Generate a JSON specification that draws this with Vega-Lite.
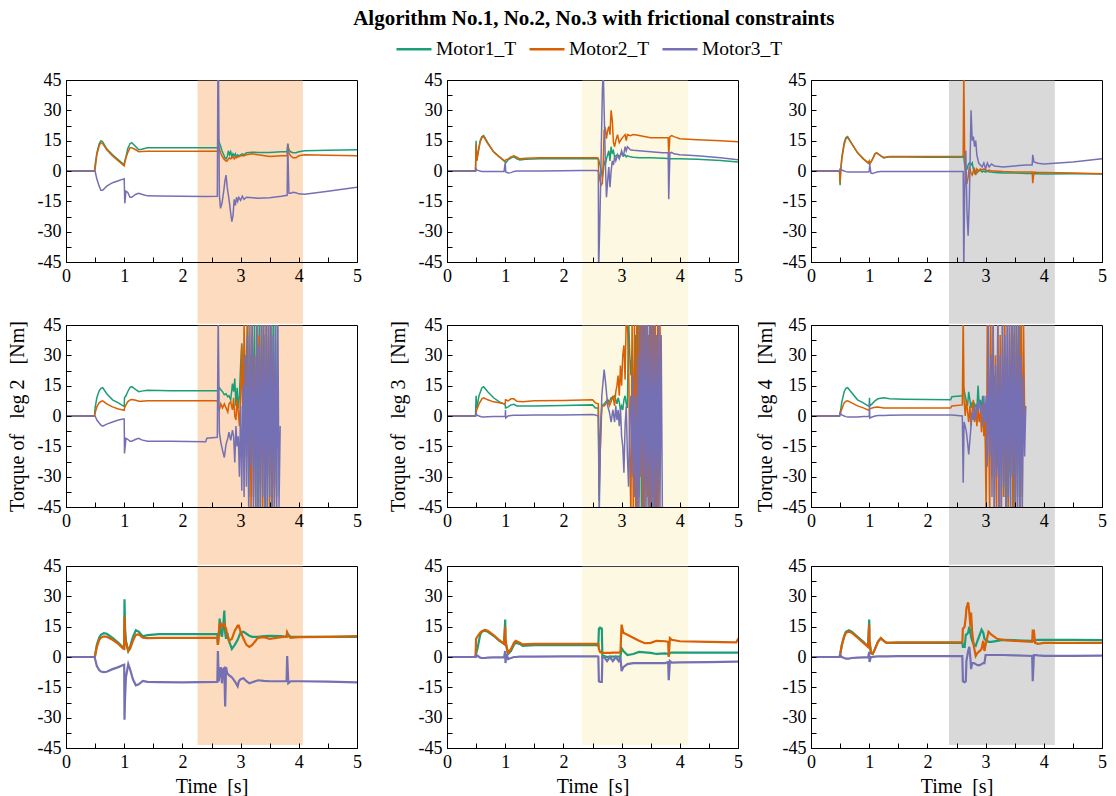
{
"$schema": "https://vega.github.io/schema/vega-lite/v6.json",
"background": "white",
"padding": {"left": 6, "top": 8, "right": 4, "bottom": 0},
"title": {"text": "Algorithm No.1, No.2, No.3 with frictional constraints", "font": "Liberation Serif", "fontSize": 21, "fontWeight": "bold", "color": "black", "anchor": "middle", "dx": 37, "offset": 1},
"datasets": {
"p12": [{"t":0,"m1":0,"m2":0,"m3":0},{"t":0.49,"m1":0,"m2":0,"m3":0},{"t":0.5,"m1":3,"m2":1,"m3":0},{"t":0.53,"m1":9,"m2":8,"m3":-4},{"t":0.57,"m1":13.5,"m2":12.5,"m3":-7.5},{"t":0.6,"m1":15,"m2":14,"m3":-9.5},{"t":0.63,"m1":14.5,"m2":13.5,"m3":-9.5},{"t":0.7,"m1":11,"m2":10.5,"m3":-7.5},{"t":0.8,"m1":8,"m2":7.5,"m3":-5.8},{"t":0.9,"m1":5.5,"m2":5,"m3":-4.8},{"t":0.98,"m1":3.5,"m2":3,"m3":-4},{"t":1.0,"m1":3.5,"m2":2.5,"m3":-3.8},{"t":1.01,"m1":5,"m2":4,"m3":-16},{"t":1.03,"m1":7,"m2":6.5,"m3":-10},{"t":1.06,"m1":11,"m2":9,"m3":-10.5},{"t":1.1,"m1":13.5,"m2":11.5,"m3":-13},{"t":1.13,"m1":14,"m2":11.5,"m3":-13},{"t":1.2,"m1":12,"m2":10.5,"m3":-11.5},{"t":1.25,"m1":10.5,"m2":9.5,"m3":-11},{"t":1.3,"m1":10.8,"m2":9.6,"m3":-11.5},{"t":1.4,"m1":11.5,"m2":9.8,"m3":-12.3},{"t":1.6,"m1":11.5,"m2":9.8,"m3":-12.4},{"t":2.0,"m1":11.5,"m2":9.8,"m3":-12.5},{"t":2.4,"m1":11.5,"m2":9.8,"m3":-12.6},{"t":2.6,"m1":11.5,"m2":9.8,"m3":-12.5},{"t":2.61,"m1":11.5,"m2":9.8,"m3":50},{"t":2.62,"m1":15.5,"m2":12,"m3":50},{"t":2.635,"m1":14,"m2":11,"m3":-12},{"t":2.655,"m1":12.5,"m2":9,"m3":-18.5},{"t":2.68,"m1":10,"m2":7.5,"m3":-16},{"t":2.71,"m1":8,"m2":6,"m3":-10},{"t":2.73,"m1":6.5,"m2":5.5,"m3":-5},{"t":2.75,"m1":6,"m2":5,"m3":-2},{"t":2.77,"m1":7,"m2":5,"m3":-8},{"t":2.79,"m1":10,"m2":6,"m3":-12},{"t":2.81,"m1":8,"m2":6.5,"m3":-16},{"t":2.83,"m1":9.5,"m2":6,"m3":-21},{"t":2.85,"m1":7,"m2":6.5,"m3":-25},{"t":2.87,"m1":8.5,"m2":7,"m3":-22},{"t":2.89,"m1":7.5,"m2":6,"m3":-14},{"t":2.91,"m1":8.5,"m2":7,"m3":-17},{"t":2.93,"m1":7,"m2":6.5,"m3":-13},{"t":2.95,"m1":8,"m2":7,"m3":-15},{"t":2.97,"m1":7.5,"m2":7,"m3":-13},{"t":3.0,"m1":8,"m2":7.5,"m3":-14.5},{"t":3.03,"m1":8.5,"m2":7.5,"m3":-12.5},{"t":3.06,"m1":8,"m2":7.5,"m3":-14},{"t":3.1,"m1":9,"m2":8,"m3":-13},{"t":3.2,"m1":9.3,"m2":8.5,"m3":-13.2},{"t":3.3,"m1":9.2,"m2":8,"m3":-13.5},{"t":3.5,"m1":9.2,"m2":7.2,"m3":-13.2},{"t":3.7,"m1":9.5,"m2":7.5,"m3":-12.5},{"t":3.8,"m1":9.5,"m2":7.5,"m3":-12},{"t":3.81,"m1":13.5,"m2":12.5,"m3":13.5},{"t":3.83,"m1":10.5,"m2":9,"m3":-11},{"t":3.86,"m1":9.5,"m2":7.5,"m3":-11},{"t":3.9,"m1":9,"m2":6.5,"m3":-10.5},{"t":3.95,"m1":9,"m2":6.5,"m3":-10.8},{"t":4.0,"m1":9.5,"m2":7.5,"m3":-11.3},{"t":4.1,"m1":10,"m2":8,"m3":-11.5},{"t":4.5,"m1":10.3,"m2":7.8,"m3":-10},{"t":5.0,"m1":10.5,"m2":7.5,"m3":-8}],
"p13": [{"t":0,"m1":0,"m2":0,"m3":0},{"t":0.49,"m1":0,"m2":0,"m3":0},{"t":0.5,"m1":15,"m2":13,"m3":1},{"t":0.51,"m1":5,"m2":5,"m3":0.5},{"t":0.53,"m1":9,"m2":8,"m3":0.3},{"t":0.57,"m1":15,"m2":14.5,"m3":0},{"t":0.6,"m1":17,"m2":16.5,"m3":-0.2},{"t":0.63,"m1":17.5,"m2":17,"m3":-0.3},{"t":0.7,"m1":14,"m2":13.5,"m3":-0.3},{"t":0.8,"m1":9.5,"m2":9.5,"m3":-0.3},{"t":0.9,"m1":7,"m2":7,"m3":-0.3},{"t":0.98,"m1":5,"m2":5.2,"m3":-0.3},{"t":1.0,"m1":4.5,"m2":5,"m3":4},{"t":1.01,"m1":4,"m2":5.5,"m3":-0.5},{"t":1.05,"m1":5.5,"m2":6,"m3":-1},{"t":1.1,"m1":6.5,"m2":7,"m3":-0.8},{"t":1.15,"m1":7,"m2":7.5,"m3":-0.2},{"t":1.2,"m1":6,"m2":6.8,"m3":0},{"t":1.25,"m1":5.5,"m2":6,"m3":0},{"t":1.35,"m1":5.8,"m2":6.3,"m3":0},{"t":1.6,"m1":6,"m2":6.5,"m3":0},{"t":2.0,"m1":6,"m2":6.6,"m3":0.1},{"t":2.3,"m1":6,"m2":6.6,"m3":0.2},{"t":2.58,"m1":6,"m2":6.5,"m3":0.2},{"t":2.6,"m1":6,"m2":6.3,"m3":-0.5},{"t":2.605,"m1":5.5,"m2":0,"m3":-50},{"t":2.63,"m1":3,"m2":-5,"m3":-20},{"t":2.65,"m1":0,"m2":-7,"m3":10},{"t":2.67,"m1":-3,"m2":-6,"m3":40},{"t":2.685,"m1":0,"m2":5,"m3":50},{"t":2.7,"m1":5,"m2":20,"m3":30},{"t":2.72,"m1":3,"m2":21,"m3":5},{"t":2.74,"m1":6,"m2":16,"m3":-13},{"t":2.76,"m1":8,"m2":20,"m3":-5},{"t":2.78,"m1":10,"m2":22,"m3":2},{"t":2.8,"m1":5,"m2":18,"m3":-8},{"t":2.82,"m1":12,"m2":30,"m3":0},{"t":2.84,"m1":9,"m2":25,"m3":5},{"t":2.86,"m1":10,"m2":14,"m3":3},{"t":2.88,"m1":7,"m2":12,"m3":7},{"t":2.9,"m1":7.5,"m2":15,"m3":5},{"t":2.93,"m1":8,"m2":18,"m3":8},{"t":2.96,"m1":7,"m2":14,"m3":6},{"t":3.0,"m1":8.5,"m2":16,"m3":10},{"t":3.03,"m1":7.5,"m2":17,"m3":7},{"t":3.06,"m1":8,"m2":18,"m3":12},{"t":3.08,"m1":7,"m2":15,"m3":10},{"t":3.1,"m1":7.5,"m2":18,"m3":12},{"t":3.15,"m1":7,"m2":17.5,"m3":10.5},{"t":3.2,"m1":6.8,"m2":18,"m3":10.3},{"t":3.3,"m1":6.5,"m2":17.5,"m3":10},{"t":3.5,"m1":6.5,"m2":16.5,"m3":9.5},{"t":3.7,"m1":6.3,"m2":16.5,"m3":9},{"t":3.8,"m1":6.2,"m2":16.5,"m3":9},{"t":3.81,"m1":6.2,"m2":8,"m3":-14},{"t":3.83,"m1":6,"m2":17,"m3":9},{"t":3.86,"m1":6,"m2":17.5,"m3":9.2},{"t":3.9,"m1":6,"m2":17,"m3":8.5},{"t":4.0,"m1":6,"m2":16,"m3":8},{"t":4.3,"m1":5.8,"m2":15.5,"m3":7.5},{"t":4.7,"m1":5.2,"m2":15,"m3":6.5},{"t":5.0,"m1":4.5,"m2":14.5,"m3":5.5}],
"p14": [{"t":0,"m1":0,"m2":0,"m3":0},{"t":0.49,"m1":0,"m2":0,"m3":0},{"t":0.5,"m1":-7,"m2":-6,"m3":1},{"t":0.51,"m1":0,"m2":0,"m3":0.8},{"t":0.53,"m1":7,"m2":6,"m3":0.5},{"t":0.57,"m1":14,"m2":13,"m3":0},{"t":0.6,"m1":16.5,"m2":16,"m3":-0.3},{"t":0.63,"m1":17,"m2":16.5,"m3":-0.5},{"t":0.7,"m1":13.5,"m2":13.5,"m3":-0.5},{"t":0.8,"m1":9,"m2":9,"m3":-0.5},{"t":0.9,"m1":6,"m2":6,"m3":-0.5},{"t":0.98,"m1":4,"m2":4,"m3":-0.5},{"t":1.0,"m1":3.5,"m2":5,"m3":-0.3},{"t":1.01,"m1":3.5,"m2":3.5,"m3":3},{"t":1.03,"m1":4.5,"m2":4.5,"m3":-1},{"t":1.06,"m1":6,"m2":6,"m3":-1.2},{"t":1.1,"m1":8.5,"m2":8.5,"m3":-0.8},{"t":1.13,"m1":9,"m2":9,"m3":-0.5},{"t":1.2,"m1":7.5,"m2":7.5,"m3":-0.3},{"t":1.25,"m1":6.5,"m2":6.7,"m3":-0.2},{"t":1.35,"m1":7,"m2":7.2,"m3":-0.2},{"t":1.6,"m1":6.9,"m2":7.2,"m3":-0.2},{"t":2.0,"m1":6.8,"m2":7.2,"m3":-0.2},{"t":2.6,"m1":6.8,"m2":7.3,"m3":-0.3},{"t":2.615,"m1":7,"m2":7.5,"m3":-0.3},{"t":2.625,"m1":7,"m2":50,"m3":-50},{"t":2.64,"m1":3,"m2":10,"m3":-10},{"t":2.66,"m1":0,"m2":-6,"m3":10},{"t":2.68,"m1":1,"m2":-6,"m3":-20},{"t":2.7,"m1":3,"m2":-3,"m3":-32},{"t":2.72,"m1":4,"m2":2,"m3":-15},{"t":2.74,"m1":3.5,"m2":0,"m3":15},{"t":2.75,"m1":3,"m2":-1,"m3":30},{"t":2.77,"m1":4,"m2":-2,"m3":15},{"t":2.79,"m1":1,"m2":0,"m3":17},{"t":2.81,"m1":-1,"m2":1,"m3":12},{"t":2.83,"m1":0,"m2":-2,"m3":15},{"t":2.85,"m1":-1,"m2":1,"m3":8},{"t":2.88,"m1":0,"m2":0,"m3":4},{"t":2.91,"m1":0.5,"m2":1,"m3":3},{"t":2.94,"m1":-0.5,"m2":0.5,"m3":2},{"t":2.97,"m1":0,"m2":1,"m3":4},{"t":3.0,"m1":-0.5,"m2":0.5,"m3":1},{"t":3.03,"m1":0,"m2":0,"m3":4},{"t":3.06,"m1":-0.5,"m2":0.5,"m3":2},{"t":3.1,"m1":-0.5,"m2":0,"m3":3.5},{"t":3.15,"m1":-0.8,"m2":0,"m3":2.5},{"t":3.3,"m1":-1,"m2":-0.3,"m3":2},{"t":3.5,"m1":-1,"m2":-0.5,"m3":2.5},{"t":3.7,"m1":-1.2,"m2":-0.5,"m3":3},{"t":3.8,"m1":-1.2,"m2":-0.5,"m3":3},{"t":3.81,"m1":-1.5,"m2":-6,"m3":8},{"t":3.83,"m1":-1.3,"m2":-0.5,"m3":4.5},{"t":3.9,"m1":-1.3,"m2":-0.7,"m3":3.8},{"t":4.0,"m1":-1.5,"m2":-0.8,"m3":3.5},{"t":4.5,"m1":-1.4,"m2":-1,"m3":4.5},{"t":5.0,"m1":-1.5,"m2":-1.3,"m3":6}],
"p22": [{"t":0,"m1":0,"m2":0,"m3":0},{"t":0.49,"m1":0,"m2":0,"m3":0},{"t":0.5,"m1":4,"m2":1.5,"m3":0},{"t":0.53,"m1":9,"m2":4.5,"m3":-2},{"t":0.57,"m1":12.5,"m2":6.5,"m3":-3.5},{"t":0.6,"m1":13.7,"m2":7.2,"m3":-4.5},{"t":0.63,"m1":14,"m2":7.5,"m3":-5},{"t":0.7,"m1":11,"m2":6,"m3":-4},{"t":0.8,"m1":8,"m2":4.5,"m3":-3},{"t":0.9,"m1":6.5,"m2":3.5,"m3":-2},{"t":0.98,"m1":5,"m2":3,"m3":-1.5},{"t":1.0,"m1":4.8,"m2":2.8,"m3":-1.5},{"t":1.005,"m1":9,"m2":4,"m3":-18.5},{"t":1.03,"m1":10,"m2":5.5,"m3":-11},{"t":1.06,"m1":12,"m2":7,"m3":-11.5},{"t":1.1,"m1":14.2,"m2":8,"m3":-12.5},{"t":1.13,"m1":14.5,"m2":8.2,"m3":-12.5},{"t":1.2,"m1":13,"m2":7.8,"m3":-11.5},{"t":1.25,"m1":12,"m2":7.3,"m3":-11},{"t":1.3,"m1":12.3,"m2":7.3,"m3":-11.8},{"t":1.4,"m1":12.7,"m2":7.5,"m3":-12.5},{"t":1.8,"m1":12.5,"m2":7.5,"m3":-12.5},{"t":2.4,"m1":12.5,"m2":7.5,"m3":-12.7},{"t":2.42,"m1":12.5,"m2":7.5,"m3":-11},{"t":2.6,"m1":12.5,"m2":7.5,"m3":-10.5},{"t":2.615,"m1":13,"m2":5,"m3":50},{"t":2.635,"m1":14,"m2":3,"m3":-8},{"t":2.66,"m1":13,"m2":6,"m3":-13},{"t":2.69,"m1":12,"m2":4,"m3":-17},{"t":2.72,"m1":10.5,"m2":6,"m3":-20.5},{"t":2.75,"m1":11,"m2":4,"m3":-14},{"t":2.78,"m1":9.5,"m2":2,"m3":-11},{"t":2.8,"m1":10,"m2":6,"m3":-8},{"t":2.83,"m1":8,"m2":7,"m3":-12},{"t":2.86,"m1":16,"m2":3,"m3":-7},{"t":2.88,"m1":12,"m2":9,"m3":-10},{"t":2.9,"m1":18.5,"m2":0,"m3":-23},{"t":2.92,"m1":5,"m2":-2,"m3":-5},{"t":2.94,"m1":14,"m2":8,"m3":-15},{"t":2.96,"m1":4,"m2":2,"m3":-10},{"t":2.98,"m1":10,"m2":-5,"m3":-30},{"t":3.0,"m1":25,"m2":10,"m3":5},{"t":3.02,"m1":36,"m2":35,"m3":-37},{"t":3.04,"m1":10,"m2":-10,"m3":15},{"t":3.06,"m1":30,"m2":45,"m3":-40},{"t":3.08,"m1":-5,"m2":20,"m3":30},{"t":3.1,"m1":25,"m2":-20,"m3":-35},{"t":3.12,"m1":50,"m2":50,"m3":40},{"t":3.14,"m1":-40,"m2":-30,"m3":-50},{"t":3.16,"m1":20,"m2":30,"m3":45},{"t":3.18,"m1":-20,"m2":-50,"m3":-25},{"t":3.2,"m1":40,"m2":50,"m3":50},{"t":3.22,"m1":0,"m2":-40,"m3":-50},{"t":3.24,"m1":50,"m2":30,"m3":30},{"t":3.26,"m1":-50,"m2":-20,"m3":-45},{"t":3.28,"m1":30,"m2":50,"m3":50},{"t":3.3,"m1":-30,"m2":-50,"m3":-50},{"t":3.32,"m1":45,"m2":40,"m3":35},{"t":3.34,"m1":-45,"m2":-35,"m3":-50},{"t":3.36,"m1":50,"m2":50,"m3":50},{"t":3.38,"m1":-20,"m2":-50,"m3":-40},{"t":3.4,"m1":40,"m2":20,"m3":50},{"t":3.42,"m1":-50,"m2":-40,"m3":-50},{"t":3.44,"m1":20,"m2":50,"m3":45},{"t":3.46,"m1":-45,"m2":-30,"m3":-50},{"t":3.48,"m1":50,"m2":45,"m3":50},{"t":3.5,"m1":-30,"m2":-50,"m3":-40},{"t":3.52,"m1":35,"m2":50,"m3":50},{"t":3.54,"m1":-50,"m2":-10,"m3":-50},{"t":3.56,"m1":50,"m2":30,"m3":40},{"t":3.58,"m1":-35,"m2":-45,"m3":-45},{"t":3.6,"m1":50,"m2":0,"m3":50},{"t":3.62,"m1":-40,"m2":null,"m3":-50},{"t":3.64,"m1":null,"m2":null,"m3":50},{"t":3.66,"m1":null,"m2":null,"m3":-45},{"t":3.68,"m1":null,"m2":null,"m3":-5}],
"p23": [{"t":0,"m1":0,"m2":0,"m3":0},{"t":0.49,"m1":0,"m2":0,"m3":0},{"t":0.5,"m1":10,"m2":2,"m3":1.5},{"t":0.51,"m1":4,"m2":3,"m3":0.5},{"t":0.55,"m1":10,"m2":6,"m3":0},{"t":0.6,"m1":14,"m2":8.5,"m3":-0.5},{"t":0.63,"m1":14.5,"m2":9,"m3":-0.5},{"t":0.7,"m1":12,"m2":8,"m3":-0.4},{"t":0.8,"m1":9,"m2":7,"m3":-0.3},{"t":0.9,"m1":7,"m2":6.5,"m3":-0.3},{"t":0.98,"m1":6,"m2":6,"m3":-0.3},{"t":1.0,"m1":5.5,"m2":6,"m3":-0.3},{"t":1.005,"m1":4,"m2":8,"m3":3},{"t":1.01,"m1":4,"m2":8,"m3":-1},{"t":1.05,"m1":4.5,"m2":7.5,"m3":0},{"t":1.1,"m1":5.5,"m2":8.5,"m3":0.3},{"t":1.15,"m1":5.8,"m2":8.5,"m3":0.4},{"t":1.2,"m1":5,"m2":7.3,"m3":0.4},{"t":1.3,"m1":5,"m2":7,"m3":0.4},{"t":1.5,"m1":5,"m2":7.5,"m3":0.5},{"t":2.0,"m1":5.2,"m2":7.7,"m3":0.5},{"t":2.5,"m1":5.5,"m2":8,"m3":0.7},{"t":2.55,"m1":4,"m2":6.5,"m3":0.5},{"t":2.6,"m1":4,"m2":6,"m3":0},{"t":2.615,"m1":-42,"m2":-35,"m3":-50},{"t":2.63,"m1":-10,"m2":-20,"m3":-20},{"t":2.66,"m1":5,"m2":5,"m3":10},{"t":2.7,"m1":6,"m2":5,"m3":23},{"t":2.73,"m1":7,"m2":6,"m3":15},{"t":2.76,"m1":8,"m2":8,"m3":5},{"t":2.79,"m1":7,"m2":5,"m3":2},{"t":2.82,"m1":9,"m2":7,"m3":-3},{"t":2.85,"m1":9,"m2":10,"m3":3},{"t":2.88,"m1":10,"m2":5,"m3":-3},{"t":2.9,"m1":8,"m2":12,"m3":5},{"t":2.92,"m1":6,"m2":15,"m3":-2},{"t":2.94,"m1":9,"m2":20,"m3":3},{"t":2.96,"m1":7,"m2":10,"m3":-5},{"t":2.98,"m1":3,"m2":25,"m3":4},{"t":3.0,"m1":5,"m2":15,"m3":-10},{"t":3.02,"m1":3,"m2":30,"m3":-15},{"t":3.04,"m1":8,"m2":35,"m3":-28},{"t":3.06,"m1":10,"m2":18,"m3":-5},{"t":3.08,"m1":6,"m2":50,"m3":5},{"t":3.1,"m1":4,"m2":45,"m3":-20},{"t":3.12,"m1":50,"m2":30,"m3":-35},{"t":3.14,"m1":30,"m2":-20,"m3":0},{"t":3.16,"m1":20,"m2":-50,"m3":10},{"t":3.18,"m1":32,"m2":50,"m3":-30},{"t":3.2,"m1":15,"m2":-50,"m3":20},{"t":3.22,"m1":-5,"m2":50,"m3":-40},{"t":3.24,"m1":40,"m2":-45,"m3":10},{"t":3.26,"m1":-25,"m2":45,"m3":-50},{"t":3.28,"m1":50,"m2":-50,"m3":30},{"t":3.3,"m1":-40,"m2":50,"m3":-45},{"t":3.32,"m1":45,"m2":-30,"m3":50},{"t":3.34,"m1":-50,"m2":45,"m3":-30},{"t":3.36,"m1":30,"m2":-50,"m3":50},{"t":3.38,"m1":-45,"m2":50,"m3":-50},{"t":3.4,"m1":50,"m2":-45,"m3":45},{"t":3.42,"m1":-35,"m2":50,"m3":-50},{"t":3.44,"m1":40,"m2":-40,"m3":50},{"t":3.46,"m1":-50,"m2":40,"m3":-45},{"t":3.48,"m1":45,"m2":-50,"m3":50},{"t":3.5,"m1":-30,"m2":50,"m3":-50},{"t":3.52,"m1":50,"m2":-45,"m3":45},{"t":3.54,"m1":-40,"m2":50,"m3":-50},{"t":3.56,"m1":50,"m2":-50,"m3":50},{"t":3.58,"m1":-32,"m2":45,"m3":-50},{"t":3.6,"m1":30,"m2":-50,"m3":40},{"t":3.62,"m1":null,"m2":50,"m3":-50},{"t":3.64,"m1":null,"m2":-45,"m3":50},{"t":3.66,"m1":null,"m2":45,"m3":-45},{"t":3.68,"m1":null,"m2":0,"m3":40},{"t":3.7,"m1":null,"m2":null,"m3":-45}],
"p24": [{"t":0,"m1":0,"m2":0,"m3":0},{"t":0.49,"m1":0,"m2":0,"m3":0},{"t":0.5,"m1":1,"m2":1,"m3":1.5},{"t":0.53,"m1":7,"m2":3.5,"m3":0.5},{"t":0.57,"m1":12,"m2":6.5,"m3":0},{"t":0.6,"m1":13.7,"m2":7.3,"m3":-0.3},{"t":0.63,"m1":14,"m2":7.5,"m3":-0.5},{"t":0.7,"m1":11.5,"m2":6.5,"m3":-0.5},{"t":0.8,"m1":8,"m2":5,"m3":-0.5},{"t":0.9,"m1":6.5,"m2":4,"m3":-0.3},{"t":0.98,"m1":5,"m2":3,"m3":-0.3},{"t":1.0,"m1":4.8,"m2":3,"m3":-0.3},{"t":1.005,"m1":9,"m2":3.5,"m3":6},{"t":1.01,"m1":5,"m2":3.5,"m3":-1},{"t":1.05,"m1":6,"m2":4,"m3":-0.5},{"t":1.1,"m1":7.5,"m2":4.3,"m3":0},{"t":1.15,"m1":8.5,"m2":4.5,"m3":0.2},{"t":1.25,"m1":9,"m2":4,"m3":0.3},{"t":1.35,"m1":8.5,"m2":4,"m3":0.4},{"t":1.6,"m1":8.3,"m2":4,"m3":0.5},{"t":2.0,"m1":8.2,"m2":4,"m3":0.5},{"t":2.4,"m1":8,"m2":4,"m3":0.5},{"t":2.42,"m1":9.5,"m2":5,"m3":0.5},{"t":2.6,"m1":10,"m2":5.5,"m3":0},{"t":2.615,"m1":12,"m2":50,"m3":-33},{"t":2.63,"m1":13,"m2":8,"m3":-3},{"t":2.65,"m1":10,"m2":0,"m3":-5},{"t":2.67,"m1":7,"m2":8,"m3":-8},{"t":2.69,"m1":5,"m2":2,"m3":-13},{"t":2.71,"m1":12,"m2":-3,"m3":-19},{"t":2.73,"m1":8,"m2":5,"m3":-12},{"t":2.75,"m1":4,"m2":-5,"m3":-5},{"t":2.77,"m1":7,"m2":3,"m3":2},{"t":2.79,"m1":3,"m2":8,"m3":-2},{"t":2.81,"m1":6,"m2":-3,"m3":5},{"t":2.83,"m1":5,"m2":3,"m3":-2},{"t":2.85,"m1":3,"m2":-5,"m3":6},{"t":2.87,"m1":15,"m2":4,"m3":3},{"t":2.89,"m1":5,"m2":-3,"m3":8},{"t":2.91,"m1":8,"m2":2,"m3":2},{"t":2.93,"m1":3,"m2":-8,"m3":5},{"t":2.95,"m1":10,"m2":6,"m3":-5},{"t":2.97,"m1":2,"m2":-10,"m3":10},{"t":2.99,"m1":5,"m2":-2,"m3":-3},{"t":3.01,"m1":-30,"m2":-50,"m3":10},{"t":3.03,"m1":5,"m2":50,"m3":-25},{"t":3.05,"m1":10,"m2":10,"m3":50},{"t":3.07,"m1":-10,"m2":-50,"m3":-20},{"t":3.09,"m1":5,"m2":45,"m3":30},{"t":3.11,"m1":30,"m2":-30,"m3":-40},{"t":3.13,"m1":-15,"m2":50,"m3":45},{"t":3.15,"m1":20,"m2":-50,"m3":-50},{"t":3.17,"m1":-5,"m2":30,"m3":25},{"t":3.19,"m1":10,"m2":-45,"m3":-30},{"t":3.21,"m1":-25,"m2":50,"m3":45},{"t":3.23,"m1":5,"m2":-50,"m3":-50},{"t":3.25,"m1":20,"m2":40,"m3":30},{"t":3.27,"m1":-10,"m2":-50,"m3":-45},{"t":3.29,"m1":15,"m2":45,"m3":50},{"t":3.31,"m1":-40,"m2":-40,"m3":-35},{"t":3.33,"m1":8,"m2":50,"m3":40},{"t":3.35,"m1":-20,"m2":-50,"m3":-50},{"t":3.37,"m1":10,"m2":30,"m3":50},{"t":3.39,"m1":-45,"m2":-45,"m3":-40},{"t":3.41,"m1":5,"m2":50,"m3":45},{"t":3.43,"m1":-30,"m2":-30,"m3":-50},{"t":3.45,"m1":45,"m2":50,"m3":50},{"t":3.47,"m1":-50,"m2":-45,"m3":-30},{"t":3.49,"m1":10,"m2":40,"m3":50},{"t":3.51,"m1":-45,"m2":-50,"m3":-50},{"t":3.53,"m1":50,"m2":50,"m3":45},{"t":3.55,"m1":-40,"m2":-25,"m3":-50},{"t":3.57,"m1":45,"m2":50,"m3":50},{"t":3.59,"m1":-30,"m2":-50,"m3":-45},{"t":3.61,"m1":50,"m2":50,"m3":30},{"t":3.63,"m1":null,"m2":-40,"m3":-50},{"t":3.65,"m1":null,"m2":50,"m3":20},{"t":3.67,"m1":null,"m2":1,"m3":-20},{"t":3.69,"m1":null,"m2":null,"m3":5}],
"p32": [{"t":0,"m1":0,"m2":0,"m3":0},{"t":0.49,"m1":0,"m2":0,"m3":0},{"t":0.5,"m1":1,"m2":0.5,"m3":-1},{"t":0.53,"m1":6,"m2":5,"m3":-4.5},{"t":0.57,"m1":9.5,"m2":8.5,"m3":-6.5},{"t":0.6,"m1":11,"m2":9.5,"m3":-7.2},{"t":0.65,"m1":11.8,"m2":10.2,"m3":-7.5},{"t":0.7,"m1":11.5,"m2":10,"m3":-7.3},{"t":0.8,"m1":9.5,"m2":8.5,"m3":-6},{"t":0.9,"m1":7,"m2":6.5,"m3":-5},{"t":0.98,"m1":4.8,"m2":4.2,"m3":-4},{"t":1.0,"m1":4.5,"m2":4,"m3":-3.8},{"t":1.005,"m1":28.5,"m2":20,"m3":-31},{"t":1.015,"m1":14,"m2":11,"m3":-20},{"t":1.03,"m1":8,"m2":7,"m3":-10},{"t":1.07,"m1":3,"m2":3,"m3":-3.5},{"t":1.1,"m1":5,"m2":4,"m3":-6},{"t":1.15,"m1":10,"m2":8,"m3":-11},{"t":1.2,"m1":13.2,"m2":11,"m3":-14},{"t":1.25,"m1":12.5,"m2":11.2,"m3":-13.5},{"t":1.32,"m1":10.2,"m2":9.5,"m3":-11.8},{"t":1.4,"m1":10.8,"m2":9.3,"m3":-12.3},{"t":1.6,"m1":11.3,"m2":9.5,"m3":-12.4},{"t":2.0,"m1":11.3,"m2":9.5,"m3":-12.5},{"t":2.6,"m1":11.3,"m2":9.5,"m3":-12.3},{"t":2.61,"m1":6,"m2":6,"m3":3},{"t":2.625,"m1":10,"m2":12,"m3":-12},{"t":2.64,"m1":19,"m2":16,"m3":-8},{"t":2.66,"m1":12,"m2":16.5,"m3":-5},{"t":2.68,"m1":10,"m2":15,"m3":-13},{"t":2.7,"m1":15,"m2":16,"m3":-6},{"t":2.72,"m1":23,"m2":16.5,"m3":-5.5},{"t":2.735,"m1":12,"m2":15,"m3":-24.5},{"t":2.75,"m1":9,"m2":14,"m3":-5},{"t":2.77,"m1":12,"m2":11,"m3":-8},{"t":2.8,"m1":8,"m2":8,"m3":-9},{"t":2.85,"m1":4,"m2":9,"m3":-10},{"t":2.9,"m1":6,"m2":13,"m3":-12},{"t":2.95,"m1":8.5,"m2":15.5,"m3":-14.5},{"t":2.97,"m1":10,"m2":15.5,"m3":-12},{"t":3.0,"m1":12,"m2":12.5,"m3":-11},{"t":3.05,"m1":12.5,"m2":9,"m3":-10.5},{"t":3.1,"m1":11.5,"m2":6,"m3":-12},{"t":3.15,"m1":10.5,"m2":5,"m3":-13},{"t":3.2,"m1":10,"m2":6,"m3":-12.5},{"t":3.3,"m1":10,"m2":9.5,"m3":-11.5},{"t":3.4,"m1":10.3,"m2":9.8,"m3":-11.8},{"t":3.5,"m1":10.5,"m2":9,"m3":-12},{"t":3.7,"m1":10.3,"m2":9.8,"m3":-12},{"t":3.79,"m1":10,"m2":10,"m3":-12},{"t":3.8,"m1":12,"m2":12,"m3":0.5},{"t":3.82,"m1":11,"m2":10.5,"m3":-13},{"t":3.86,"m1":10,"m2":9.5,"m3":-12},{"t":4.0,"m1":10,"m2":9.8,"m3":-12},{"t":4.5,"m1":10,"m2":10,"m3":-12.2},{"t":5.0,"m1":10,"m2":10.3,"m3":-12.5}],
"p33": [{"t":0,"m1":0,"m2":0,"m3":0},{"t":0.49,"m1":0,"m2":0,"m3":0},{"t":0.5,"m1":1.5,"m2":9,"m3":1},{"t":0.53,"m1":5,"m2":10.5,"m3":0.5},{"t":0.57,"m1":11,"m2":12,"m3":-0.3},{"t":0.6,"m1":12.5,"m2":12.8,"m3":-0.5},{"t":0.65,"m1":13,"m2":13.4,"m3":-0.5},{"t":0.7,"m1":12.5,"m2":13,"m3":-0.3},{"t":0.8,"m1":10.5,"m2":10.8,"m3":-0.2},{"t":0.9,"m1":8,"m2":8.3,"m3":-0.2},{"t":0.98,"m1":6.5,"m2":6.5,"m3":-0.2},{"t":1.0,"m1":18.5,"m2":15,"m3":3},{"t":1.005,"m1":8,"m2":9,"m3":-3},{"t":1.02,"m1":5,"m2":6,"m3":1.5},{"t":1.05,"m1":1.5,"m2":2,"m3":-1},{"t":1.1,"m1":3,"m2":4,"m3":-0.5},{"t":1.15,"m1":6,"m2":7,"m3":0},{"t":1.18,"m1":7,"m2":8,"m3":0},{"t":1.25,"m1":6.5,"m2":7,"m3":0.2},{"t":1.3,"m1":5.5,"m2":6.2,"m3":0.2},{"t":1.5,"m1":5.8,"m2":6.5,"m3":0.2},{"t":2.0,"m1":5.8,"m2":6.5,"m3":0.3},{"t":2.58,"m1":5.8,"m2":6.5,"m3":0.3},{"t":2.6,"m1":5.5,"m2":6.3,"m3":0.2},{"t":2.61,"m1":14,"m2":4,"m3":-12},{"t":2.63,"m1":14.5,"m2":2.5,"m3":-12.3},{"t":2.66,"m1":14,"m2":2,"m3":-12.3},{"t":2.67,"m1":0,"m2":2,"m3":0},{"t":2.7,"m1":0.5,"m2":2,"m3":0},{"t":2.75,"m1":0,"m2":2,"m3":-2},{"t":2.8,"m1":0.2,"m2":2,"m3":0},{"t":2.85,"m1":0.2,"m2":2.2,"m3":-2},{"t":2.9,"m1":0.2,"m2":2.2,"m3":0},{"t":2.95,"m1":0.2,"m2":2.2,"m3":-2},{"t":2.98,"m1":0.2,"m2":2.5,"m3":0},{"t":3.0,"m1":4.3,"m2":16,"m3":-7},{"t":3.03,"m1":3,"m2":12,"m3":-5},{"t":3.1,"m1":1,"m2":11,"m3":-3.5},{"t":3.2,"m1":1.5,"m2":9.5,"m3":-3},{"t":3.3,"m1":2.5,"m2":8,"m3":-3},{"t":3.4,"m1":2.3,"m2":6.8,"m3":-3},{"t":3.5,"m1":2,"m2":7,"m3":-3},{"t":3.6,"m1":1.5,"m2":8,"m3":-3},{"t":3.75,"m1":1.8,"m2":7.8,"m3":-3},{"t":3.8,"m1":1.5,"m2":7.5,"m3":-2.5},{"t":3.81,"m1":1,"m2":0,"m3":-11.5},{"t":3.83,"m1":2,"m2":9.3,"m3":-2},{"t":3.86,"m1":2.2,"m2":8.5,"m3":-2.8},{"t":4.0,"m1":2.2,"m2":7.8,"m3":-2.7},{"t":4.5,"m1":2.2,"m2":7.5,"m3":-2.5},{"t":4.97,"m1":2.2,"m2":7.2,"m3":-2.3},{"t":4.99,"m1":2.2,"m2":8.3,"m3":-2.3},{"t":5.0,"m1":2.2,"m2":7.5,"m3":-2.3}],
"p34": [{"t":0,"m1":0,"m2":0,"m3":0},{"t":0.49,"m1":0,"m2":0,"m3":0},{"t":0.5,"m1":1,"m2":1,"m3":1},{"t":0.53,"m1":6,"m2":6,"m3":0},{"t":0.57,"m1":10.5,"m2":10,"m3":-0.5},{"t":0.6,"m1":12.5,"m2":12,"m3":-0.8},{"t":0.65,"m1":13.2,"m2":12.5,"m3":-0.8},{"t":0.7,"m1":12.5,"m2":12,"m3":-0.5},{"t":0.8,"m1":10,"m2":9.5,"m3":-0.3},{"t":0.9,"m1":7.5,"m2":7,"m3":-0.2},{"t":0.98,"m1":5.2,"m2":5,"m3":-0.2},{"t":1.0,"m1":18.5,"m2":16,"m3":2.5},{"t":1.005,"m1":8,"m2":8,"m3":-2.5},{"t":1.03,"m1":2,"m2":2,"m3":0},{"t":1.06,"m1":1.5,"m2":1.5,"m3":0},{"t":1.1,"m1":4,"m2":4,"m3":0.2},{"t":1.15,"m1":7.5,"m2":7.5,"m3":0.3},{"t":1.2,"m1":9.3,"m2":9.3,"m3":0.3},{"t":1.25,"m1":8,"m2":8,"m3":0.3},{"t":1.3,"m1":7,"m2":7,"m3":0.3},{"t":1.5,"m1":7,"m2":7.2,"m3":0.4},{"t":2.0,"m1":7,"m2":7.2,"m3":0.4},{"t":2.6,"m1":7,"m2":7.3,"m3":0.5},{"t":2.61,"m1":5,"m2":14,"m3":-12},{"t":2.64,"m1":5,"m2":15,"m3":-12.5},{"t":2.66,"m1":11,"m2":20,"m3":-12},{"t":2.67,"m1":11,"m2":24,"m3":-2},{"t":2.7,"m1":12,"m2":27,"m3":3},{"t":2.72,"m1":15,"m2":22,"m3":5},{"t":2.74,"m1":12,"m2":15,"m3":-1},{"t":2.75,"m1":10,"m2":22,"m3":-6},{"t":2.77,"m1":8,"m2":12,"m3":-3},{"t":2.8,"m1":6,"m2":5,"m3":-3},{"t":2.83,"m1":5.5,"m2":0.5,"m3":-3.5},{"t":2.86,"m1":8,"m2":2,"m3":-4},{"t":2.9,"m1":11,"m2":3,"m3":-4},{"t":2.93,"m1":13.5,"m2":4,"m3":-3.5},{"t":2.96,"m1":12,"m2":8,"m3":-3},{"t":2.98,"m1":9,"m2":3,"m3":-3},{"t":3.0,"m1":8.5,"m2":6,"m3":1},{"t":3.05,"m1":7.5,"m2":12.5,"m3":1},{"t":3.1,"m1":7.5,"m2":11,"m3":1},{"t":3.2,"m1":8,"m2":9,"m3":1},{"t":3.3,"m1":8.5,"m2":8.5,"m3":1},{"t":3.5,"m1":8.3,"m2":8,"m3":0.8},{"t":3.8,"m1":8,"m2":7.5,"m3":0.5},{"t":3.81,"m1":8,"m2":13,"m3":-12},{"t":3.83,"m1":8,"m2":13,"m3":1},{"t":3.85,"m1":8.3,"m2":7,"m3":1},{"t":3.9,"m1":8.5,"m2":6.5,"m3":0.8},{"t":4.0,"m1":8.5,"m2":7,"m3":0.6},{"t":4.5,"m1":8.5,"m2":7,"m3":0.6},{"t":5.0,"m1":8.3,"m2":7,"m3":0.7}]
},
"hconcat": [
 {"vconcat": [
  {"width": 291, "height": 182, "layer": [
   {"data": {"values": [{"start": 2.26, "end": 4.07}]}, "mark": {"type": "rect", "color": "#FCDBBF"}, "encoding": {"x": {"field": "start", "type": "quantitative", "scale": {"domain": [0, 5], "nice": false}, "axis": {"values": [0,0.5,1,1.5,2,2.5,3,3.5,4,4.5,5], "labelExpr": "datum.value % 1 === 0 ? '' + datum.value : ''", "title": null, "zindex": 1}}, "x2": {"field": "end"}, "y": {"datum": 44.6, "type": "quantitative", "scale": {"domain": [-45, 45], "nice": false, "zero": false}, "axis": {"values": [-45,-37.5,-30,-22.5,-15,-7.5,0,7.5,15,22.5,30,37.5,45], "labelExpr": "datum.value % 15 === 0 ? '' + datum.value : ''", "title": null, "zindex": 1}}, "y2": {"datum": -75.5}}},
   {"data": {"name": "p12"}, "transform": [{"fold": ["m1", "m2", "m3"], "as": ["motor", "torque"]}], "mark": {"type": "line", "clip": true, "strokeWidth": 1.5},
    "encoding": {"x": {"field": "t", "type": "quantitative", "scale": {"domain": [0, 5], "nice": false}, "axis": {"values": [0,0.5,1,1.5,2,2.5,3,3.5,4,4.5,5], "labelExpr": "datum.value % 1 === 0 ? '' + datum.value : ''", "title": null, "zindex": 1}},
     "y": {"field": "torque", "type": "quantitative", "scale": {"domain": [-45, 45], "nice": false, "zero": false}, "axis": {"values": [-45,-37.5,-30,-22.5,-15,-7.5,0,7.5,15,22.5,30,37.5,45], "labelExpr": "datum.value % 15 === 0 ? '' + datum.value : ''", "title": null, "zindex": 1}},
     "color": {"field": "motor", "type": "nominal", "scale": {"domain": ["m1","m2","m3"], "range": ["#1b9e77","#d95f02","#7570b3"]}, "legend": {"orient": "none", "legendX": 329, "legendY": -50, "direction": "horizontal", "title": null, "symbolType": "stroke", "symbolSize": 1225, "symbolStrokeWidth": 2.5, "labelFont": "Liberation Serif", "labelFontSize": 19.5, "labelColor": "black", "labelOffset": 3, "columnPadding": 7, "labelExpr": "datum.value == 'm1' ? 'Motor1_T' : datum.value == 'm2' ? 'Motor2_T' : 'Motor3_T'"}}}}
  ]},
  {"width": 291, "height": 182, "layer": [
   {"data": {"values": [{"start": 2.26, "end": 4.07}]}, "mark": {"type": "rect", "color": "#FCDBBF"}, "encoding": {"x": {"field": "start", "type": "quantitative", "scale": {"domain": [0, 5], "nice": false}, "axis": {"values": [0,0.5,1,1.5,2,2.5,3,3.5,4,4.5,5], "labelExpr": "datum.value % 1 === 0 ? '' + datum.value : ''", "title": null, "zindex": 1}}, "x2": {"field": "end"}, "y": {"datum": 44.6, "type": "quantitative", "scale": {"domain": [-45, 45], "nice": false, "zero": false}, "axis": {"values": [-45,-37.5,-30,-22.5,-15,-7.5,0,7.5,15,22.5,30,37.5,45], "labelExpr": "datum.value % 15 === 0 ? '' + datum.value : ''", "title": "Torque of\u00a0\u00a0 leg 2\u00a0\u00a0 [Nm]", "titlePadding": 10, "zindex": 1}}, "y2": {"datum": -73.5}}},
   {"data": {"name": "p22"}, "transform": [{"fold": ["m1", "m2", "m3"], "as": ["motor", "torque"]}], "mark": {"type": "line", "clip": true, "strokeWidth": 1.5},
    "encoding": {"x": {"field": "t", "type": "quantitative", "scale": {"domain": [0, 5], "nice": false}, "axis": {"values": [0,0.5,1,1.5,2,2.5,3,3.5,4,4.5,5], "labelExpr": "datum.value % 1 === 0 ? '' + datum.value : ''", "title": null, "zindex": 1}},
     "y": {"field": "torque", "type": "quantitative", "scale": {"domain": [-45, 45], "nice": false, "zero": false}, "axis": {"values": [-45,-37.5,-30,-22.5,-15,-7.5,0,7.5,15,22.5,30,37.5,45], "labelExpr": "datum.value % 15 === 0 ? '' + datum.value : ''", "title": "Torque of\u00a0\u00a0 leg 2\u00a0\u00a0 [Nm]", "titlePadding": 10, "zindex": 1}},
     "color": {"field": "motor", "type": "nominal", "scale": {"domain": ["m1","m2","m3"], "range": ["#1b9e77","#d95f02","#7570b3"]}, "legend": {"orient": "none", "legendX": 329, "legendY": -50, "direction": "horizontal", "title": null, "symbolType": "stroke", "symbolSize": 1225, "symbolStrokeWidth": 2.5, "labelFont": "Liberation Serif", "labelFontSize": 19.5, "labelColor": "black", "labelOffset": 3, "columnPadding": 7, "labelExpr": "datum.value == 'm1' ? 'Motor1_T' : datum.value == 'm2' ? 'Motor2_T' : 'Motor3_T'"}}}}
  ]},
  {"width": 291, "height": 182, "layer": [
   {"data": {"values": [{"start": 2.26, "end": 4.07}]}, "mark": {"type": "rect", "color": "#FCDBBF"}, "encoding": {"x": {"field": "start", "type": "quantitative", "scale": {"domain": [0, 5], "nice": false}, "axis": {"values": [0,0.5,1,1.5,2,2.5,3,3.5,4,4.5,5], "labelExpr": "datum.value % 1 === 0 ? '' + datum.value : ''", "title": "Time\u00a0 [s]", "zindex": 1}}, "x2": {"field": "end"}, "y": {"datum": 44.6, "type": "quantitative", "scale": {"domain": [-45, 45], "nice": false, "zero": false}, "axis": {"values": [-45,-37.5,-30,-22.5,-15,-7.5,0,7.5,15,22.5,30,37.5,45], "labelExpr": "datum.value % 15 === 0 ? '' + datum.value : ''", "title": null, "zindex": 1}}, "y2": {"datum": -43.5}}},
   {"data": {"name": "p32"}, "transform": [{"fold": ["m1", "m2", "m3"], "as": ["motor", "torque"]}], "mark": {"type": "line", "clip": true, "strokeWidth": 2.2},
    "encoding": {"x": {"field": "t", "type": "quantitative", "scale": {"domain": [0, 5], "nice": false}, "axis": {"values": [0,0.5,1,1.5,2,2.5,3,3.5,4,4.5,5], "labelExpr": "datum.value % 1 === 0 ? '' + datum.value : ''", "title": "Time\u00a0 [s]", "zindex": 1}},
     "y": {"field": "torque", "type": "quantitative", "scale": {"domain": [-45, 45], "nice": false, "zero": false}, "axis": {"values": [-45,-37.5,-30,-22.5,-15,-7.5,0,7.5,15,22.5,30,37.5,45], "labelExpr": "datum.value % 15 === 0 ? '' + datum.value : ''", "title": null, "zindex": 1}},
     "color": {"field": "motor", "type": "nominal", "scale": {"domain": ["m1","m2","m3"], "range": ["#1b9e77","#d95f02","#7570b3"]}, "legend": {"orient": "none", "legendX": 329, "legendY": -50, "direction": "horizontal", "title": null, "symbolType": "stroke", "symbolSize": 1225, "symbolStrokeWidth": 2.5, "labelFont": "Liberation Serif", "labelFontSize": 19.5, "labelColor": "black", "labelOffset": 3, "columnPadding": 7, "labelExpr": "datum.value == 'm1' ? 'Motor1_T' : datum.value == 'm2' ? 'Motor2_T' : 'Motor3_T'"}}}}
  ]}
 ], "spacing": -11.3},
 {"hconcat": [
  {"vconcat": [
   {"width": 291, "height": 182, "layer": [
    {"data": {"values": [{"start": 2.32, "end": 4.14}]}, "mark": {"type": "rect", "color": "#FCF8E1"}, "encoding": {"x": {"field": "start", "type": "quantitative", "scale": {"domain": [0, 5], "nice": false}, "axis": {"values": [0,0.5,1,1.5,2,2.5,3,3.5,4,4.5,5], "labelExpr": "datum.value % 1 === 0 ? '' + datum.value : ''", "title": null, "zindex": 1}}, "x2": {"field": "end"}, "y": {"datum": 44.6, "type": "quantitative", "scale": {"domain": [-45, 45], "nice": false, "zero": false}, "axis": {"values": [-45,-37.5,-30,-22.5,-15,-7.5,0,7.5,15,22.5,30,37.5,45], "labelExpr": "datum.value % 15 === 0 ? '' + datum.value : ''", "title": null, "zindex": 1}}, "y2": {"datum": -75.5}}},
    {"data": {"name": "p13"}, "transform": [{"fold": ["m1", "m2", "m3"], "as": ["motor", "torque"]}], "mark": {"type": "line", "clip": true, "strokeWidth": 1.5},
     "encoding": {"x": {"field": "t", "type": "quantitative", "scale": {"domain": [0, 5], "nice": false}, "axis": {"values": [0,0.5,1,1.5,2,2.5,3,3.5,4,4.5,5], "labelExpr": "datum.value % 1 === 0 ? '' + datum.value : ''", "title": null, "zindex": 1}},
      "y": {"field": "torque", "type": "quantitative", "scale": {"domain": [-45, 45], "nice": false, "zero": false}, "axis": {"values": [-45,-37.5,-30,-22.5,-15,-7.5,0,7.5,15,22.5,30,37.5,45], "labelExpr": "datum.value % 15 === 0 ? '' + datum.value : ''", "title": null, "zindex": 1}},
      "color": {"field": "motor", "type": "nominal", "scale": {"domain": ["m1","m2","m3"], "range": ["#1b9e77","#d95f02","#7570b3"]}, "legend": {"orient": "none", "legendX": 329, "legendY": -50, "direction": "horizontal", "title": null, "symbolType": "stroke", "symbolSize": 1225, "symbolStrokeWidth": 2.5, "labelFont": "Liberation Serif", "labelFontSize": 19.5, "labelColor": "black", "labelOffset": 3, "columnPadding": 7, "labelExpr": "datum.value == 'm1' ? 'Motor1_T' : datum.value == 'm2' ? 'Motor2_T' : 'Motor3_T'"}}}}
   ]},
   {"width": 291, "height": 182, "layer": [
    {"data": {"values": [{"start": 2.32, "end": 4.14}]}, "mark": {"type": "rect", "color": "#FCF8E1"}, "encoding": {"x": {"field": "start", "type": "quantitative", "scale": {"domain": [0, 5], "nice": false}, "axis": {"values": [0,0.5,1,1.5,2,2.5,3,3.5,4,4.5,5], "labelExpr": "datum.value % 1 === 0 ? '' + datum.value : ''", "title": null, "zindex": 1}}, "x2": {"field": "end"}, "y": {"datum": 44.6, "type": "quantitative", "scale": {"domain": [-45, 45], "nice": false, "zero": false}, "axis": {"values": [-45,-37.5,-30,-22.5,-15,-7.5,0,7.5,15,22.5,30,37.5,45], "labelExpr": "datum.value % 15 === 0 ? '' + datum.value : ''", "title": "Torque of\u00a0\u00a0 leg 3\u00a0\u00a0 [Nm]", "titlePadding": 10, "zindex": 1}}, "y2": {"datum": -73.5}}},
    {"data": {"name": "p23"}, "transform": [{"fold": ["m1", "m2", "m3"], "as": ["motor", "torque"]}], "mark": {"type": "line", "clip": true, "strokeWidth": 1.5},
     "encoding": {"x": {"field": "t", "type": "quantitative", "scale": {"domain": [0, 5], "nice": false}, "axis": {"values": [0,0.5,1,1.5,2,2.5,3,3.5,4,4.5,5], "labelExpr": "datum.value % 1 === 0 ? '' + datum.value : ''", "title": null, "zindex": 1}},
      "y": {"field": "torque", "type": "quantitative", "scale": {"domain": [-45, 45], "nice": false, "zero": false}, "axis": {"values": [-45,-37.5,-30,-22.5,-15,-7.5,0,7.5,15,22.5,30,37.5,45], "labelExpr": "datum.value % 15 === 0 ? '' + datum.value : ''", "title": "Torque of\u00a0\u00a0 leg 3\u00a0\u00a0 [Nm]", "titlePadding": 10, "zindex": 1}},
      "color": {"field": "motor", "type": "nominal", "scale": {"domain": ["m1","m2","m3"], "range": ["#1b9e77","#d95f02","#7570b3"]}, "legend": {"orient": "none", "legendX": 329, "legendY": -50, "direction": "horizontal", "title": null, "symbolType": "stroke", "symbolSize": 1225, "symbolStrokeWidth": 2.5, "labelFont": "Liberation Serif", "labelFontSize": 19.5, "labelColor": "black", "labelOffset": 3, "columnPadding": 7, "labelExpr": "datum.value == 'm1' ? 'Motor1_T' : datum.value == 'm2' ? 'Motor2_T' : 'Motor3_T'"}}}}
   ]},
   {"width": 291, "height": 182, "layer": [
    {"data": {"values": [{"start": 2.32, "end": 4.14}]}, "mark": {"type": "rect", "color": "#FCF8E1"}, "encoding": {"x": {"field": "start", "type": "quantitative", "scale": {"domain": [0, 5], "nice": false}, "axis": {"values": [0,0.5,1,1.5,2,2.5,3,3.5,4,4.5,5], "labelExpr": "datum.value % 1 === 0 ? '' + datum.value : ''", "title": "Time\u00a0 [s]", "zindex": 1}}, "x2": {"field": "end"}, "y": {"datum": 44.6, "type": "quantitative", "scale": {"domain": [-45, 45], "nice": false, "zero": false}, "axis": {"values": [-45,-37.5,-30,-22.5,-15,-7.5,0,7.5,15,22.5,30,37.5,45], "labelExpr": "datum.value % 15 === 0 ? '' + datum.value : ''", "title": null, "zindex": 1}}, "y2": {"datum": -43.5}}},
    {"data": {"name": "p33"}, "transform": [{"fold": ["m1", "m2", "m3"], "as": ["motor", "torque"]}], "mark": {"type": "line", "clip": true, "strokeWidth": 2.2},
     "encoding": {"x": {"field": "t", "type": "quantitative", "scale": {"domain": [0, 5], "nice": false}, "axis": {"values": [0,0.5,1,1.5,2,2.5,3,3.5,4,4.5,5], "labelExpr": "datum.value % 1 === 0 ? '' + datum.value : ''", "title": "Time\u00a0 [s]", "zindex": 1}},
      "y": {"field": "torque", "type": "quantitative", "scale": {"domain": [-45, 45], "nice": false, "zero": false}, "axis": {"values": [-45,-37.5,-30,-22.5,-15,-7.5,0,7.5,15,22.5,30,37.5,45], "labelExpr": "datum.value % 15 === 0 ? '' + datum.value : ''", "title": null, "zindex": 1}},
      "color": {"field": "motor", "type": "nominal", "scale": {"domain": ["m1","m2","m3"], "range": ["#1b9e77","#d95f02","#7570b3"]}, "legend": {"orient": "none", "legendX": 329, "legendY": -50, "direction": "horizontal", "title": null, "symbolType": "stroke", "symbolSize": 1225, "symbolStrokeWidth": 2.5, "labelFont": "Liberation Serif", "labelFontSize": 19.5, "labelColor": "black", "labelOffset": 3, "columnPadding": 7, "labelExpr": "datum.value == 'm1' ? 'Motor1_T' : datum.value == 'm2' ? 'Motor2_T' : 'Motor3_T'"}}}}
   ]}
  ], "spacing": -11.3},
  {"vconcat": [
   {"width": 291, "height": 182, "layer": [
    {"data": {"values": [{"start": 2.37, "end": 4.19}]}, "mark": {"type": "rect", "color": "#D9D9D9"}, "encoding": {"x": {"field": "start", "type": "quantitative", "scale": {"domain": [0, 5], "nice": false}, "axis": {"values": [0,0.5,1,1.5,2,2.5,3,3.5,4,4.5,5], "labelExpr": "datum.value % 1 === 0 ? '' + datum.value : ''", "title": null, "zindex": 1}}, "x2": {"field": "end"}, "y": {"datum": 44.6, "type": "quantitative", "scale": {"domain": [-45, 45], "nice": false, "zero": false}, "axis": {"values": [-45,-37.5,-30,-22.5,-15,-7.5,0,7.5,15,22.5,30,37.5,45], "labelExpr": "datum.value % 15 === 0 ? '' + datum.value : ''", "title": null, "zindex": 1}}, "y2": {"datum": -75.5}}},
    {"data": {"name": "p14"}, "transform": [{"fold": ["m1", "m2", "m3"], "as": ["motor", "torque"]}], "mark": {"type": "line", "clip": true, "strokeWidth": 1.5},
     "encoding": {"x": {"field": "t", "type": "quantitative", "scale": {"domain": [0, 5], "nice": false}, "axis": {"values": [0,0.5,1,1.5,2,2.5,3,3.5,4,4.5,5], "labelExpr": "datum.value % 1 === 0 ? '' + datum.value : ''", "title": null, "zindex": 1}},
      "y": {"field": "torque", "type": "quantitative", "scale": {"domain": [-45, 45], "nice": false, "zero": false}, "axis": {"values": [-45,-37.5,-30,-22.5,-15,-7.5,0,7.5,15,22.5,30,37.5,45], "labelExpr": "datum.value % 15 === 0 ? '' + datum.value : ''", "title": null, "zindex": 1}},
      "color": {"field": "motor", "type": "nominal", "scale": {"domain": ["m1","m2","m3"], "range": ["#1b9e77","#d95f02","#7570b3"]}, "legend": {"orient": "none", "legendX": 329, "legendY": -50, "direction": "horizontal", "title": null, "symbolType": "stroke", "symbolSize": 1225, "symbolStrokeWidth": 2.5, "labelFont": "Liberation Serif", "labelFontSize": 19.5, "labelColor": "black", "labelOffset": 3, "columnPadding": 7, "labelExpr": "datum.value == 'm1' ? 'Motor1_T' : datum.value == 'm2' ? 'Motor2_T' : 'Motor3_T'"}}}}
   ]},
   {"width": 291, "height": 182, "layer": [
    {"data": {"values": [{"start": 2.37, "end": 4.19}]}, "mark": {"type": "rect", "color": "#D9D9D9"}, "encoding": {"x": {"field": "start", "type": "quantitative", "scale": {"domain": [0, 5], "nice": false}, "axis": {"values": [0,0.5,1,1.5,2,2.5,3,3.5,4,4.5,5], "labelExpr": "datum.value % 1 === 0 ? '' + datum.value : ''", "title": null, "zindex": 1}}, "x2": {"field": "end"}, "y": {"datum": 44.6, "type": "quantitative", "scale": {"domain": [-45, 45], "nice": false, "zero": false}, "axis": {"values": [-45,-37.5,-30,-22.5,-15,-7.5,0,7.5,15,22.5,30,37.5,45], "labelExpr": "datum.value % 15 === 0 ? '' + datum.value : ''", "title": "Torque of\u00a0\u00a0 leg 4\u00a0\u00a0 [Nm]", "titlePadding": 7, "zindex": 1}}, "y2": {"datum": -73.5}}},
    {"data": {"name": "p24"}, "transform": [{"fold": ["m1", "m2", "m3"], "as": ["motor", "torque"]}], "mark": {"type": "line", "clip": true, "strokeWidth": 1.5},
     "encoding": {"x": {"field": "t", "type": "quantitative", "scale": {"domain": [0, 5], "nice": false}, "axis": {"values": [0,0.5,1,1.5,2,2.5,3,3.5,4,4.5,5], "labelExpr": "datum.value % 1 === 0 ? '' + datum.value : ''", "title": null, "zindex": 1}},
      "y": {"field": "torque", "type": "quantitative", "scale": {"domain": [-45, 45], "nice": false, "zero": false}, "axis": {"values": [-45,-37.5,-30,-22.5,-15,-7.5,0,7.5,15,22.5,30,37.5,45], "labelExpr": "datum.value % 15 === 0 ? '' + datum.value : ''", "title": "Torque of\u00a0\u00a0 leg 4\u00a0\u00a0 [Nm]", "titlePadding": 7, "zindex": 1}},
      "color": {"field": "motor", "type": "nominal", "scale": {"domain": ["m1","m2","m3"], "range": ["#1b9e77","#d95f02","#7570b3"]}, "legend": {"orient": "none", "legendX": 329, "legendY": -50, "direction": "horizontal", "title": null, "symbolType": "stroke", "symbolSize": 1225, "symbolStrokeWidth": 2.5, "labelFont": "Liberation Serif", "labelFontSize": 19.5, "labelColor": "black", "labelOffset": 3, "columnPadding": 7, "labelExpr": "datum.value == 'm1' ? 'Motor1_T' : datum.value == 'm2' ? 'Motor2_T' : 'Motor3_T'"}}}}
   ]},
   {"width": 291, "height": 182, "layer": [
    {"data": {"values": [{"start": 2.37, "end": 4.19}]}, "mark": {"type": "rect", "color": "#D9D9D9"}, "encoding": {"x": {"field": "start", "type": "quantitative", "scale": {"domain": [0, 5], "nice": false}, "axis": {"values": [0,0.5,1,1.5,2,2.5,3,3.5,4,4.5,5], "labelExpr": "datum.value % 1 === 0 ? '' + datum.value : ''", "title": "Time\u00a0 [s]", "zindex": 1}}, "x2": {"field": "end"}, "y": {"datum": 44.6, "type": "quantitative", "scale": {"domain": [-45, 45], "nice": false, "zero": false}, "axis": {"values": [-45,-37.5,-30,-22.5,-15,-7.5,0,7.5,15,22.5,30,37.5,45], "labelExpr": "datum.value % 15 === 0 ? '' + datum.value : ''", "title": null, "zindex": 1}}, "y2": {"datum": -43.5}}},
    {"data": {"name": "p34"}, "transform": [{"fold": ["m1", "m2", "m3"], "as": ["motor", "torque"]}], "mark": {"type": "line", "clip": true, "strokeWidth": 2.2},
     "encoding": {"x": {"field": "t", "type": "quantitative", "scale": {"domain": [0, 5], "nice": false}, "axis": {"values": [0,0.5,1,1.5,2,2.5,3,3.5,4,4.5,5], "labelExpr": "datum.value % 1 === 0 ? '' + datum.value : ''", "title": "Time\u00a0 [s]", "zindex": 1}},
      "y": {"field": "torque", "type": "quantitative", "scale": {"domain": [-45, 45], "nice": false, "zero": false}, "axis": {"values": [-45,-37.5,-30,-22.5,-15,-7.5,0,7.5,15,22.5,30,37.5,45], "labelExpr": "datum.value % 15 === 0 ? '' + datum.value : ''", "title": null, "zindex": 1}},
      "color": {"field": "motor", "type": "nominal", "scale": {"domain": ["m1","m2","m3"], "range": ["#1b9e77","#d95f02","#7570b3"]}, "legend": {"orient": "none", "legendX": 329, "legendY": -50, "direction": "horizontal", "title": null, "symbolType": "stroke", "symbolSize": 1225, "symbolStrokeWidth": 2.5, "labelFont": "Liberation Serif", "labelFontSize": 19.5, "labelColor": "black", "labelOffset": 3, "columnPadding": 7, "labelExpr": "datum.value == 'm1' ? 'Motor1_T' : datum.value == 'm2' ? 'Motor2_T' : 'Motor3_T'"}}}}
   ]}
  ], "spacing": -11.3}
 ], "spacing": 11}
],
"spacing": 25,
"config": {
 "view": {"stroke": "black", "strokeWidth": 1},
 "axis": {"domainColor": "black", "tickColor": "black", "tickSize": -5, "labelPadding": 10, "labelFont": "Liberation Serif", "labelFontSize": 18, "labelColor": "black", "titleFont": "Liberation Serif", "titleFontSize": 20, "titleFontWeight": "normal", "titleColor": "black", "grid": false, "zindex": 1, "labelFlush": false, "labelOverlap": false},
 "axisX": {"titlePadding": 5}
}
}
